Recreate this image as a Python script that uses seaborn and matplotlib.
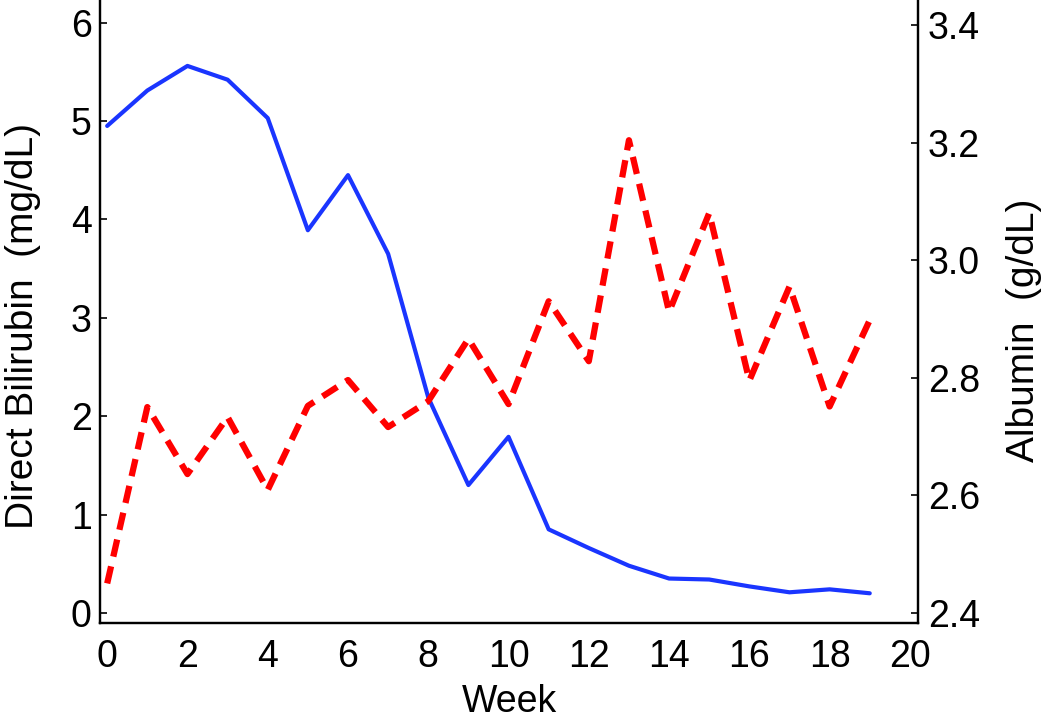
import matplotlib
matplotlib.use("Agg")
import matplotlib.pyplot as plt
import seaborn as sns
import pandas as pd

# Weekly lab values
weeks = list(range(20))
bilirubin = [4.95, 5.31, 5.56, 5.42, 5.03, 3.89, 4.45, 3.65, 2.19, 1.30,
             1.79, 0.85, 0.66, 0.48, 0.35, 0.34, 0.27, 0.21, 0.24, 0.20]
albumin = [2.45, 2.75, 2.636, 2.733, 2.609, 2.752, 2.796, 2.716, 2.76, 2.866,
           2.755, 2.93, 2.828, 3.204, 2.912, 3.08, 2.795, 2.955, 2.751, 2.898]

xticks = list(range(0, 21, 2))
left_ticks = [0, 1, 2, 3, 4, 5, 6]
right_ticks = [2.4, 2.6, 2.8, 3.0, 3.2, 3.4]

df = pd.DataFrame({"week": weeks, "bili": bilirubin, "alb": albumin})

sns.set_style("white")
plt.rcParams["font.family"] = ["Liberation Sans", "DejaVu Sans"]
plt.rcParams["axes.linewidth"] = 1.6
plt.rcParams["text.color"] = "black"
plt.rcParams["axes.labelcolor"] = "black"
plt.rcParams["xtick.color"] = "black"
plt.rcParams["ytick.color"] = "black"

fig = plt.figure(figsize=(10.5, 7.2), dpi=100)
ax = fig.add_axes([0.0952, 0.135, 0.779, 0.865])
ax2 = ax.twinx()

sns.lineplot(data=df, x="week", y="bili", ax=ax, color="#1a35ff", lw=3.0)
sns.lineplot(data=df, x="week", y="alb", ax=ax2, color="#ff0000", lw=4.5,
             dashes=False)
ax2.lines[0].set_dashes((2.8, 1.6))

ax.set_xlim(-0.18, 20.2)
ax.set_ylim(-0.1, 6.23)
ax2.set_ylim(2.383, 3.4425)

ax.set_xticks(xticks)
ax.set_yticks(left_ticks)
ax2.set_yticks(right_ticks)
ax2.set_yticklabels([f"{v:.1f}" for v in right_ticks])

for a in (ax, ax2):
    a.spines["top"].set_visible(False)
    for s in a.spines.values():
        s.set_color("black")
ax.tick_params(axis="x", direction="in", length=5, width=1.2,
               labelsize=27, pad=12)
ax.tick_params(axis="y", direction="in", length=5, width=1.2,
               labelsize=27, pad=6, left=True, right=False)
ax2.tick_params(axis="y", direction="in", length=5, width=1.2,
                labelsize=27, pad=7, right=True)

ax.set_xlabel("Week", fontsize=27, labelpad=6)
ax.set_ylabel("Direct Bilirubin  (mg/dL)", fontsize=28)
ax2.set_ylabel("Albumin  (g/dL)", fontsize=28)
ax.yaxis.set_label_coords(-0.072, 0.476)
ax2.yaxis.set_label_coords(1.108, 0.47)

fig.savefig("out.png", dpi=100)
